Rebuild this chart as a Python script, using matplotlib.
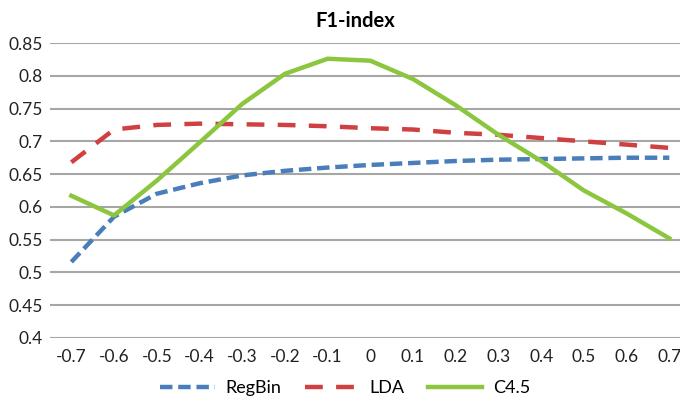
import numpy as np
from matplotlib import pyplot as plt

plt.rcParams['font.family'] = ['Lato', 'DejaVu Sans']

x_labels = ['-0.7', '-0.6', '-0.5', '-0.4', '-0.3', '-0.2', '-0.1', '0',
            '0.1', '0.2', '0.3', '0.4', '0.5', '0.6', '0.7']
regbin = [0.516, 0.585, 0.620, 0.636, 0.648, 0.655, 0.660, 0.664,
          0.667, 0.670, 0.672, 0.673, 0.674, 0.675, 0.675]
lda = [0.668, 0.718, 0.725, 0.727, 0.726, 0.725, 0.723, 0.720,
       0.718, 0.713, 0.710, 0.705, 0.700, 0.695, 0.690]
c45 = [0.617, 0.587, 0.640, 0.698, 0.757, 0.803, 0.826, 0.823,
       0.795, 0.755, 0.710, 0.670, 0.625, 0.590, 0.552]
y_ticks = [0.4, 0.45, 0.5, 0.55, 0.6, 0.65, 0.7, 0.75, 0.8, 0.85]

fig = plt.figure(figsize=(6.8, 4.0), dpi=100)
ax = fig.add_axes([0.0735, 0.155, 0.9265, 0.7375])

idx = np.arange(len(x_labels))
ax.plot(idx, regbin, color='#4a7ebb', linewidth=3.2, linestyle=(0, (2.8, 1.3)),
        label='RegBin')
ax.plot(idx, lda, color='#d04040', linewidth=3.2, linestyle=(0, (4.0, 3.0)),
        label='LDA')
ax.plot(idx, c45, color='#8cc63f', linewidth=3.2, label='C4.5')

ax.set_xlim(-0.5, 14.25)
ax.set_ylim(0.4, 0.85)
ax.set_yticks(y_ticks)
ax.set_yticklabels(['0.4', '0.45', '0.5', '0.55', '0.6', '0.65', '0.7', '0.75', '0.8', '0.85'])
ax.set_xticks(idx)
ax.set_xticklabels(x_labels)
ax.tick_params(axis='both', length=0, labelsize=12.5, colors='#222222')
ax.tick_params(axis='x', pad=8)
ax.tick_params(axis='y', pad=5)
ax.grid(axis='y', color='#a6a6a6', linewidth=1.5)
ax.set_axisbelow(True)
for s in ax.spines.values():
    s.set_visible(False)

fig.text(0.522, 0.948, 'F1-index', ha='center', va='center', fontsize=14.5, fontweight='bold')

fig.legend(loc='center', bbox_to_anchor=(0.508, 0.03), ncol=3, frameon=False,
           fontsize=13, handlelength=3.0, columnspacing=1.3, handletextpad=0.6)

fig.savefig('out.png', dpi=100)
